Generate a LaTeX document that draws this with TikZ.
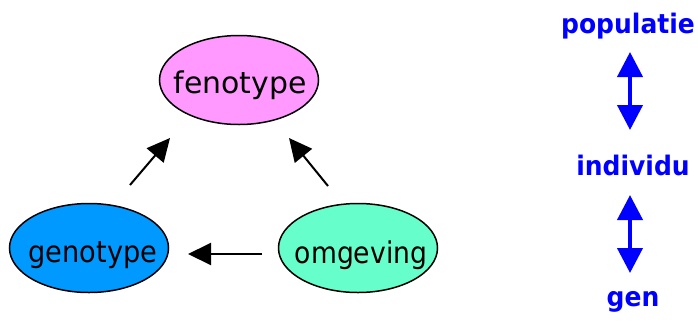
\documentclass[tikz,border=0pt]{standalone}
\usepackage{fontspec}
\setmainfont{DejaVu Sans}
\usetikzlibrary{shapes.geometric,arrows.meta}
\definecolor{fenopink}{HTML}{FF99FF}
\definecolor{genoblue}{HTML}{0099FF}
\definecolor{omgreen}{HTML}{66FFCC}
\definecolor{levelblue}{HTML}{0000FF}
\newcommand\hscaled[2]{\scalebox{#1}[1]{#2}}
\newcommand\widelevel[1]{\scalebox{0.93}[1]{#1}}
\tikzset{
  blob/.style={ellipse, draw=black, line width=1.5bp, inner sep=0pt,
    minimum width=159bp, minimum height=89bp},
  blobtext/.style={font=\fontsize{30}{30}\selectfont, inner sep=0pt, anchor=base},
  influence/.style={draw=black, line width=2bp,
    -{Triangle[length=23bp,width=22bp]}},
  level/.style={text=levelblue, font=\fontsize{27}{27}\selectfont\bfseries, inner sep=0pt},
  scalearrow/.style={draw=levelblue, line width=4bp,
    {Triangle[length=25bp,width=25bp]}-{Triangle[length=25bp,width=25bp]}}
}
\begin{document}
\begin{tikzpicture}[x=1bp,y=-1bp]
\useasboundingbox (0,0) rectangle (698,320);
% the three factors
\node[blob, fill=fenopink] (feno) at (239,80) {};
\node[blob, fill=genoblue] (geno) at (89,248) {};
\node[blob, fill=omgreen] (omg) at (358,248) {};
\node[blobtext] (fenot) at ([xshift=1bp,yshift=-13bp]feno.center) {\hscaled{1.0}{fenotype}};
\node[blobtext] (genot) at ([xshift=4bp,yshift=-14bp]geno.center) {\hscaled{0.91}{genotype}};
\node[blobtext] (omgt) at ([xshift=3bp,yshift=-15bp]omg.center) {\hscaled{0.89}{omgeving}};
% arrow end points
\coordinate (g1) at (130,185);
\coordinate (f1) at (170,138);
\coordinate (o1) at (328,186);
\coordinate (f2) at (289,138);
\coordinate (o2) at (262,254);
\coordinate (g2) at (188,254);
\draw[influence] (g1) -- (f1);
\draw[influence] (o1) -- (f2);
\draw[influence] (o2) -- (g2);
% levels of organisation
\node[level] (pop) at (628,26) {\widelevel{populatie}};
\node[level] (ind) at (633,165) {\widelevel{individu}};
\node[level] (gen) at (633,302) {\widelevel{gen}};
\coordinate (a1) at (630,52);
\coordinate (a2) at (630,130);
\coordinate (b1) at (630,195);
\coordinate (b2) at (630,273);
\draw[scalearrow] (a1) -- (a2);
\draw[scalearrow] (b1) -- (b2);
\end{tikzpicture}
\end{document}
